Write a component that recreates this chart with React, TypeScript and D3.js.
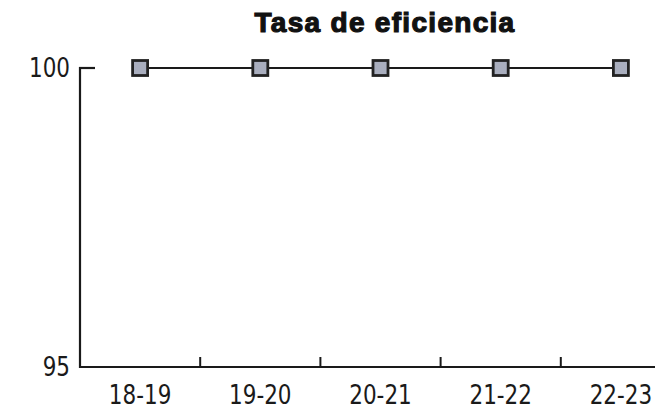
import React from "react";
import * as d3 from "d3";

const categories = ["18-19", "19-20", "20-21", "21-22", "22-23"];
const values = [100, 100, 100, 100, 100];
const yTicks = [95, 100];
const title = "Tasa de eficiencia";

export default function App() {
  const W = 655, H = 412;
  const x = d3.scaleBand<string>().domain(categories).range([80, 681]);
  const y = d3.scaleLinear().domain([95, 100]).range([367, 68]);
  const line = d3
    .line<number>()
    .x((_, i) => (x(categories[i]) as number) + x.bandwidth() / 2)
    .y((d) => y(d));
  const labelFont = "'DejaVu Sans Condensed', 'DejaVu Sans', sans-serif";
  const sx = 0.92;
  return (
    <svg width={W} height={H} style={{ position: "absolute", left: 0, top: 0, background: "#fff" }}>
      <text x={385} y={32} textAnchor="middle" fontFamily="'Liberation Sans', Arial, sans-serif" fontWeight="bold" fontSize={28} letterSpacing={1.3} fill="#111" stroke="#111" strokeWidth={1.2}>
        {title}
      </text>
      {/* axes */}
      <line x1={80} x2={80} y1={y(100) - 1} y2={y(95) + 1} stroke="#1a1a1a" strokeWidth={2.2} />
      <line x1={79} x2={W} y1={y(95)} y2={y(95)} stroke="#1a1a1a" strokeWidth={2.2} />
      {yTicks.map((t) => (
        <g key={t}>
          {t !== 95 && <line x1={79} x2={95} y1={y(t)} y2={y(t)} stroke="#1a1a1a" strokeWidth={2.2} />}
          <text transform={`translate(70,${y(t)}) scale(${sx},1)`} dy="0.35em" textAnchor="end" fontFamily={labelFont} fontSize={26} fill="#1a1a1a">
            {t}
          </text>
        </g>
      ))}
      {categories.slice(1).map((c) => (
        <line key={c} x1={x(c)} x2={x(c)} y1={y(95)} y2={y(95) - 10} stroke="#1a1a1a" strokeWidth={2} />
      ))}
      {categories.map((c) => (
        <text key={c} transform={`translate(${(x(c) as number) + x.bandwidth() / 2},404) scale(${sx},1)`} textAnchor="middle" fontFamily={labelFont} fontSize={26} fill="#1a1a1a">
          {c}
        </text>
      ))}
      <path d={line(values) || ""} fill="none" stroke="#1a1a1a" strokeWidth={2} />
      {values.map((v, i) => {
        const cx = (x(categories[i]) as number) + x.bandwidth() / 2;
        return (
          <rect key={i} x={cx - 7.5} y={y(v) - 7.5} width={15} height={15} fill="#a9aebe" stroke="#222" strokeWidth={2.8} />
        );
      })}
    </svg>
  );
}
